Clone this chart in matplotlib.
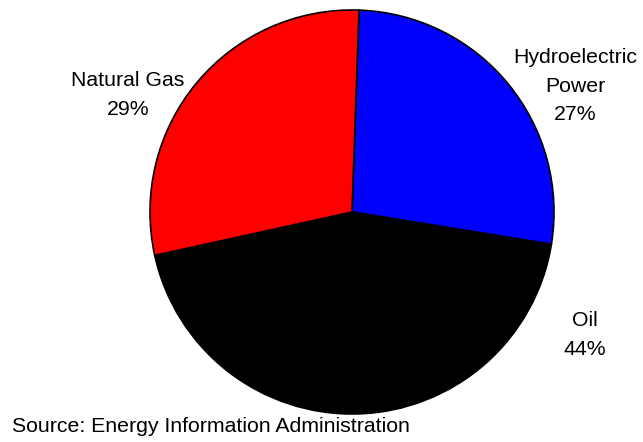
import matplotlib
matplotlib.use("Agg")
import matplotlib.pyplot as plt

labels = ["Hydroelectric\nPower", "Oil", "Natural Gas"]
shares = [27, 44, 29]
colors = ["#0000ff", "#000000", "#ff0000"]

plt.rcParams['font.family'] = ['Liberation Sans', 'DejaVu Sans']

fig = plt.figure(figsize=(6.43, 4.42), dpi=100)
ax = fig.add_axes([0, 0, 1, 1])

# pie drawn in pixel coords (y axis flipped, so go counterclockwise visually clockwise)
ax.pie(shares, colors=colors, startangle=-88, counterclock=True,
       center=(352, 212), radius=202,
       wedgeprops=dict(edgecolor='black', linewidth=1.2), frame=True)
ax.set_xlim(0, 643)
ax.set_ylim(442, 0)
ax.set_aspect('auto')
ax.axis('off')

pos = [(575, 86), (585, 335), (128, 95)]
for lab, s, (x, y) in zip(labels, shares, pos):
    ax.text(x, y, f"{lab}\n{s}%", ha='center', va='center', fontsize=15.3,
            linespacing=1.65)

ax.text(12, 426, "Source: Energy Information Administration", ha='left', va='center',
        fontsize=15.3)

fig.savefig("out.png", dpi=100)
